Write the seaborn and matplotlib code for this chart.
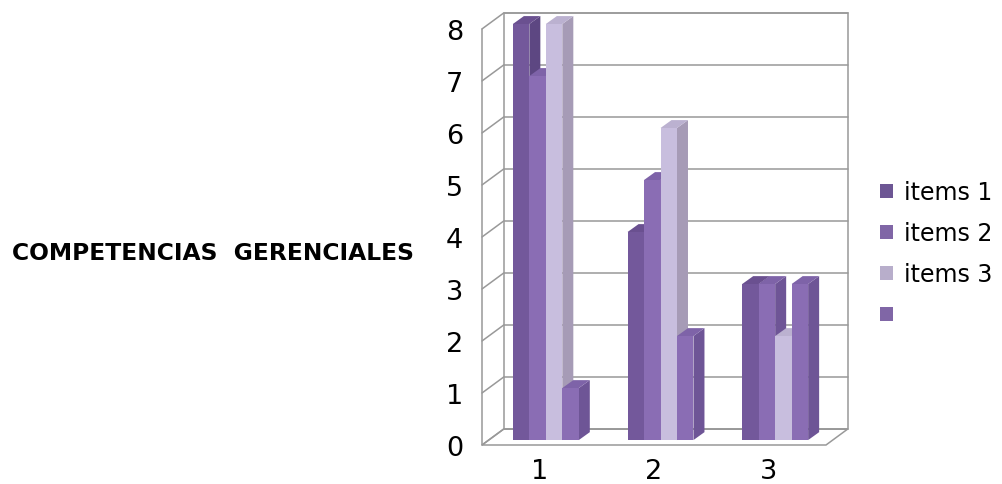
import matplotlib
matplotlib.use('Agg')
import matplotlib.pyplot as plt
import seaborn as sns
import numpy as np
import pandas as pd
from matplotlib.patches import Polygon, Rectangle, Patch

# datos del grafico
grupos = ["1", "2", "3"]
series = ["items 1", "items 2", "items 3", ""]
items_1 = [8, 4, 3]
items_2 = [7, 5, 3]
items_3 = [8, 6, 2]
items_4 = [1, 2, 3]
ticks_y = list(range(0, 9))
titulo = "COMPETENCIAS  GERENCIALES"

# colores: frente, lado, arriba
frente = ["#73589B", "#8A6DB4", "#C8BEDE", "#8A6DB4"]
lado = ["#5D4782", "#6E5596", "#A69BB6", "#6E5596"]
arriba = ["#6A5090", "#7E63A8", "#BBB1D0", "#7E63A8"]
leyenda_col = ["#6D5694", "#8066A6", "#B8AECB", "#8066A6"]
gris = "#999999"

filas = []
for s, vals in zip(series, [items_1, items_2, items_3, items_4]):
    for g, v in zip(grupos, vals):
        filas.append({"grupo": g, "serie": s, "valor": v})
df = pd.DataFrame(filas)

sns.set_style("white")
plt.rcParams['font.family'] = ['DejaVu Sans']
plt.rcParams['text.color'] = 'black'
plt.rcParams['xtick.color'] = 'black'
plt.rcParams['ytick.color'] = 'black'

W, H = 1002, 485
fig = plt.figure(figsize=(W / 100, H / 100), dpi=100)
ax = fig.add_axes([488.5 / W, 39 / H, 344 / W, 421 / H])

sns.barplot(data=df, x="grupo", y="valor", hue="serie", hue_order=series,
            order=grupos, palette=frente, width=0.575, gap=0, saturation=1,
            legend=False, ax=ax)
barras = list(ax.patches)

ax.set_xlim(-0.5, 2.5)
ax.set_ylim(0, 8)

# conversion pixel -> datos para el efecto 3D
sx = 344 / 3
sy = 421 / 8
def px(dx, dy):
    return dx / sx, dy / sy

fo = px(-6.5, -5)   # plano frontal
bo = px(15, 11)     # pared del fondo
dp = px(11, 8)      # profundidad de barra
x0, x1 = -0.5, 2.5
ymax = ticks_y[-1]

# paredes
ax.add_patch(Rectangle((x0 + bo[0], bo[1]), x1 - x0, ymax, fc="white", ec=gris,
                       lw=1.1, zorder=0.5, clip_on=False))
ax.add_patch(Polygon([(x0 + fo[0], fo[1]), (x1 + fo[0], fo[1]),
                      (x1 + bo[0], bo[1]), (x0 + bo[0], bo[1])],
                     closed=True, fc="white", ec=gris, lw=1.1, zorder=0.55, clip_on=False))
for v in ticks_y:
    ax.plot([x0 + bo[0], x1 + bo[0]], [v + bo[1]] * 2, color=gris, lw=1.1,
            zorder=0.6, clip_on=False)
    ax.plot([x0 + fo[0], x0 + bo[0]], [v + fo[1], v + bo[1]], color=gris, lw=1.1,
            zorder=0.6, clip_on=False)
ax.plot([x0 + fo[0]] * 2, [fo[1], ymax + fo[1]], color=gris, lw=1.1, zorder=0.6, clip_on=False)

# caras laterales y superiores de las barras
n = len(grupos)
orden = sorted(range(len(barras)), key=lambda i: barras[i].get_x())
for rank, i in enumerate(orden):
    b = barras[i]
    k = i // n
    x, w, h = b.get_x(), b.get_width(), b.get_height()
    z = 2 + rank * 0.01
    b.set_zorder(z + 0.005)
    b.set_clip_on(False)
    b.set_edgecolor("none")
    ax.add_patch(Polygon([(x + w, 0), (x + w, h), (x + w + dp[0], h + dp[1]), (x + w + dp[0], dp[1])],
                         closed=True, fc=lado[k], ec="none", zorder=z, clip_on=False))
    ax.add_patch(Polygon([(x, h), (x + w, h), (x + w + dp[0], h + dp[1]), (x + dp[0], h + dp[1])],
                         closed=True, fc=arriba[k], ec="none", zorder=z, clip_on=False))

# ejes
for s in ax.spines.values():
    s.set_visible(False)
ax.set_yticks(np.array(ticks_y) + fo[1])
ax.set_yticklabels([str(v) for v in ticks_y])
ax.set_xticks(np.arange(n) + fo[0])
ax.set_xticklabels(grupos)
ax.tick_params(axis="y", length=0, labelsize=19.5, pad=18.4, labelcolor="black")
ax.tick_params(axis="x", length=0, labelsize=19.5, pad=9.5, labelcolor="black")
ax.set_xlabel("")
ax.set_ylabel("")

# leyenda
handles = [Patch(facecolor=c, edgecolor="none") for c in leyenda_col]
fig.legend(handles, series, loc="center left", bbox_to_anchor=(880 / W, 1 - 255 / H),
           frameon=False, fontsize=17, handlelength=0.55, handleheight=0.55,
           handletextpad=0.45, labelspacing=0.72, borderpad=0, borderaxespad=0,
           labelcolor="black")

fig.text(12 / W, 1 - 253 / H, titulo, fontsize=16.8, fontweight="bold",
         ha="left", va="center", color="black")

fig.savefig("out.png", dpi=100)
plt.close("all")
